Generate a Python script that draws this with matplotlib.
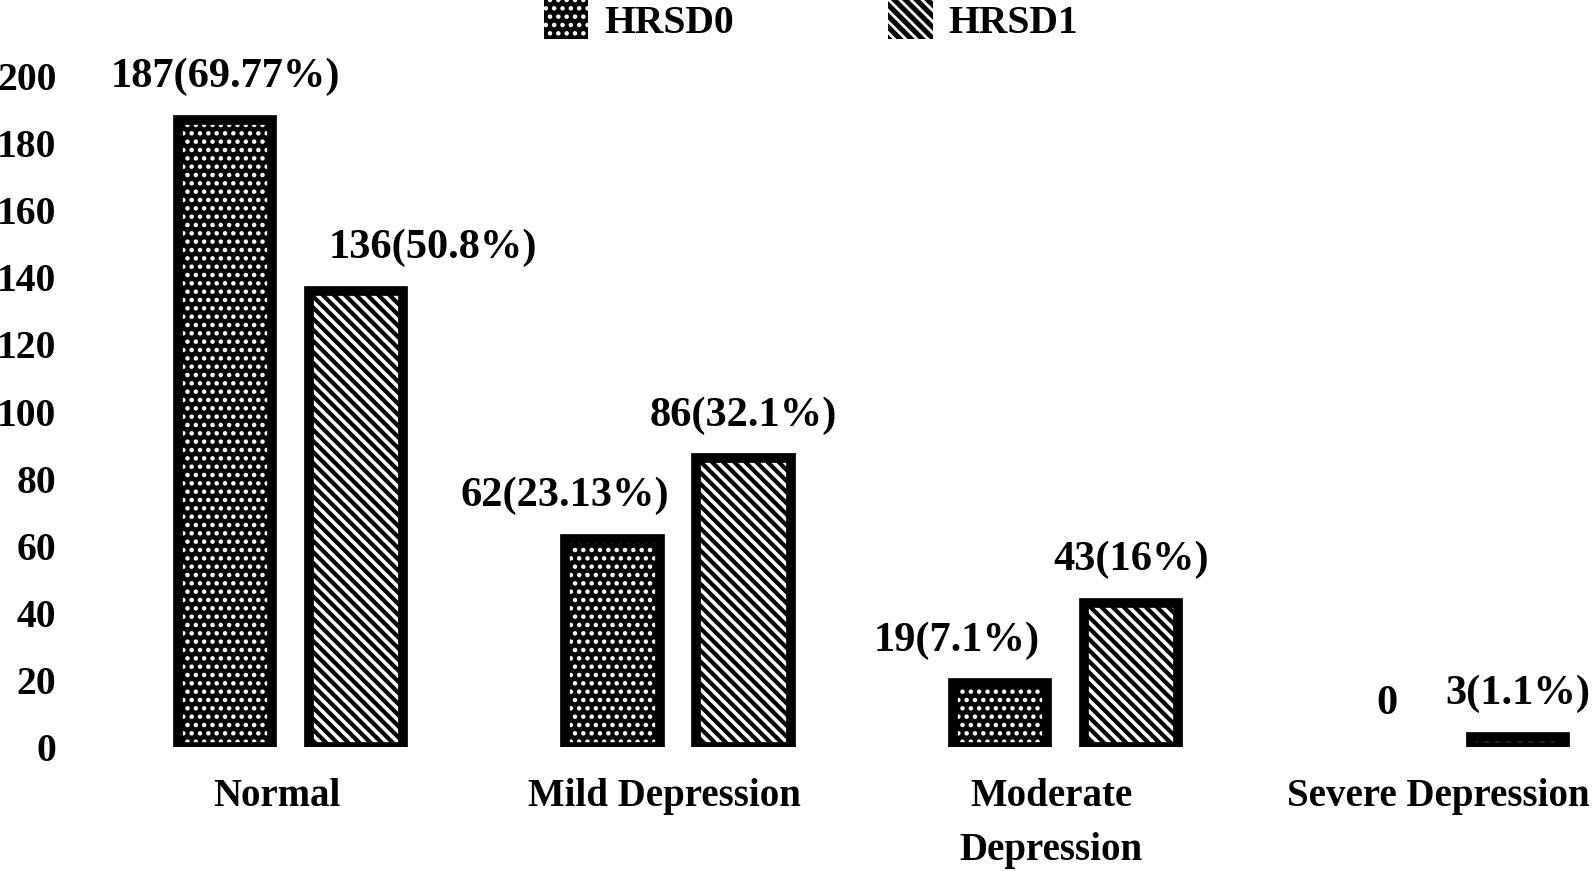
import numpy as np
import matplotlib
matplotlib.use('Agg')
import matplotlib.pyplot as plt
import matplotlib.transforms as mtrans
from matplotlib.patches import Patch

plt.rcParams['font.family'] = ['Liberation Serif', 'DejaVu Serif']
plt.rcParams['font.weight'] = 'bold'
plt.rcParams['hatch.linewidth'] = 2.0

categories = ['Normal', 'Mild Depression', 'Moderate\nDepression', 'Severe Depression']
hrsd0 = [187, 62, 19, 0]
hrsd1 = [136, 86, 43, 3]
labels0 = ['187(69.77%)', '62(23.13%)', '19(7.1%)', '0']
labels1 = ['136(50.8%)', '86(32.1%)', '43(16%)', '3(1.1%)']
yticks = list(range(0, 201, 20))

# horizontal nudges of the value labels, in pixels
nudge0 = [0, -48, -43, 0]
nudge1 = [77, 0, 0, 0]

W, H = 1594, 871
fig = plt.figure(figsize=(W / 100, H / 100), dpi=100)
ax = fig.add_axes([62 / W, 124 / H, (W - 62) / W, 671 / H])

x = np.arange(len(categories))
off = 0.169
bw = 0.2435

def hatched(xpos, vals, hatch, hlw):
    # black face with white hatch, then a thick black frame on top
    inner = ax.bar(xpos, vals, bw, color='black', edgecolor='white', hatch=hatch, linewidth=0)
    for p in inner:
        if hasattr(p, 'set_hatch_linewidth'):
            p.set_hatch_linewidth(hlw)
    bars = ax.bar(xpos, vals, bw, fill=False, edgecolor='black', linewidth=7)
    for b in bars:
        if b.get_height() == 0:
            b.set_visible(False)
    return bars

hatched(x - off, hrsd0, '..', 2.0)
hatched(x + off, hrsd1, '\\\\\\', 2.6)

for xs, vals, labs, nd in [(x - off, hrsd0, labels0, nudge0), (x + off, hrsd1, labels1, nudge1)]:
    for xi, v, t, n in zip(xs, vals, labs, nd):
        ax.annotate(t, (xi, v), xytext=(n * 0.72, 23.5), textcoords='offset points',
                    ha='center', va='baseline', fontsize=30.5, fontweight='bold')

ax.set_xlim((62 - 290.7) / 387.3, (W - 290.7) / 387.3)
ax.set_ylim(0, 200)
ax.set_yticks(yticks)
ax.set_xticks(x)
ax.set_xticklabels(categories, linespacing=1.64)
ax.tick_params(axis='y', length=0, pad=4, labelsize=28.5)
ax.tick_params(axis='x', length=0, pad=22, labelsize=28)
shift = mtrans.ScaledTranslation(-14 / 100, 0, fig.dpi_scale_trans)
for lab in ax.get_xticklabels():
    lab.set_transform(lab.get_transform() + shift)
for s in ax.spines.values():
    s.set_visible(False)

handles = [Patch(facecolor='black', edgecolor='white', hatch='..', linewidth=0, label='HRSD0'),
           Patch(facecolor='black', edgecolor='white', hatch='\\\\\\', linewidth=0, label='HRSD1')]
fig.legend(handles=handles, loc='center', bbox_to_anchor=(811 / W, 1 - 21 / H), ncol=2,
           frameon=False, fontsize=28.5, handlelength=1.12, handleheight=1.12,
           handletextpad=0.4, columnspacing=3.9, borderaxespad=0)

fig.savefig('out.png', dpi=100, facecolor='white')
